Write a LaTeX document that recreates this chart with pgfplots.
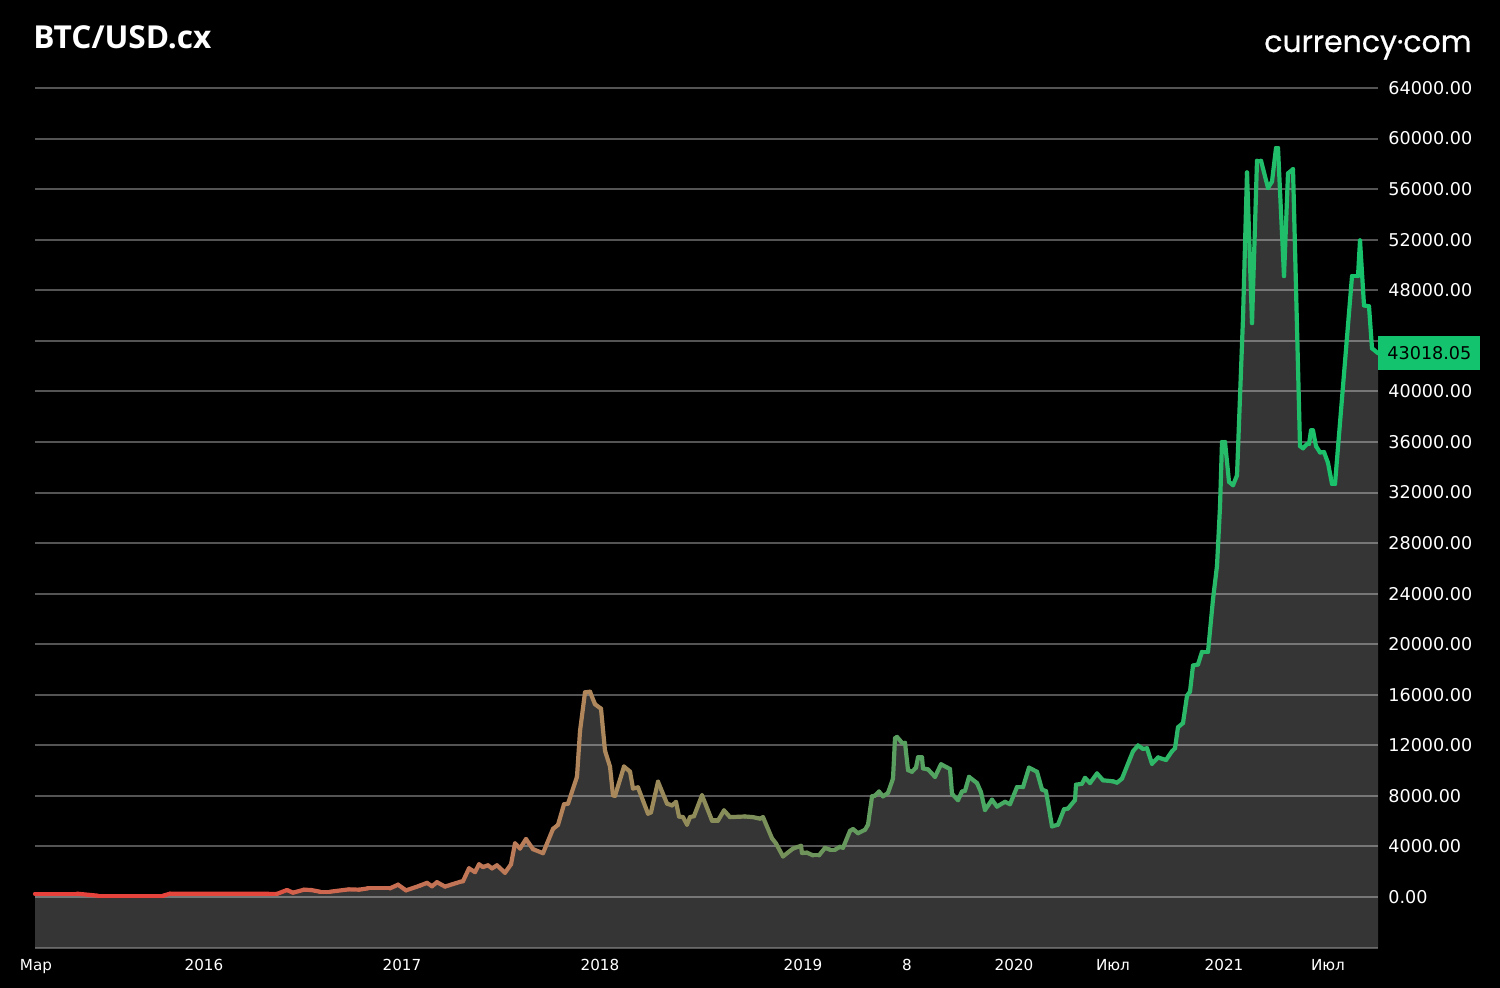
\documentclass[border=0pt]{standalone}
\usepackage{fontspec}
\setmainfont{DejaVu Sans}
\newfontfamily\titlefont{Open Sans}
\newfontfamily\logofont{Poppins}[FakeBold=0.6]
\usepackage{xcolor}
\usepackage{pgfplots}
\pgfplotsset{compat=1.18}
\usepackage{pgfplotstable}
\definecolor{areac}{RGB}{53,53,53}
\definecolor{lastg}{RGB}{20,195,110}
\pgfplotsset{colormap={btc}{rgb255(0pt)=(232,64,60) rgb255(235pt)=(228,72,60) rgb255(265pt)=(208,100,78) rgb255(465pt)=(190,122,88) rgb255(565pt)=(174,136,92) rgb255(665pt)=(142,140,90) rgb255(765pt)=(112,146,90) rgb255(865pt)=(90,160,96) rgb255(1065pt)=(52,180,102) rgb255(1343pt)=(22,195,108)}}
\pgfplotstableread{
x y
35 264
77 264
98 105
163 105
170 264
277 250
287 555
293 343
304 580
311 555
320 420
330 420
349 607
359 580
368 686
390 686
398 977
406 528
416 792
420 907
427 1120
432 853
437 1173
445 827
460 1200
463 1250
469 2267
475 1973
479 2587
483 2373
488 2507
492 2267
497 2507
505 1920
511 2587
515 4240
520 3840
526 4587
533 3787
543 3467
553 5387
558 5707
564 7333
568 7387
577 9520
580 13120
585 16190
590 16240
595 15250
601 14900
605 11570
610 10320
613 8050
615 8000
624 10320
630 9920
633 8590
638 8670
648 6590
651 6700
658 9120
667 7390
672 7250
676 7520
679 6370
683 6320
687 5730
690 6320
694 6400
702 8050
712 6050
718 6050
724 6850
730 6320
745 6370
753 6320
760 6200
763 6320
772 4644
776 4240
783 3213
793 3834
801 4050
802 3483
807 3510
813 3294
819 3294
825 3888
830 3750
835 3750
840 3969
843 3888
850 5238
853 5373
858 5049
865 5319
868 5724
872 7965
875 8019
879 8343
883 7965
888 8235
893 9369
895 12555
897 12663
902 12204
905 12204
908 10044
912 9909
916 10233
918 11043
922 11043
923 10179
928 10098
935 9504
941 10503
950 10125
952 8154
958 7668
962 8343
965 8400
969 9504
977 9018
981 8289
985 6885
992 7695
997 7155
1005 7533
1010 7344
1017 8694
1023 8694
1029 10233
1037 9909
1042 8505
1046 8370
1052 5589
1058 5724
1064 6939
1068 7000
1075 7668
1076 8883
1082 8964
1085 9423
1090 9018
1097 9774
1103 9234
1113 9153
1117 9045
1122 9369
1133 11529
1138 11988
1143 11718
1147 11770
1152 10540
1158 11040
1166 10840
1172 11535
1175 11770
1178 13430
1183 13760
1187 15920
1190 16250
1193 18310
1198 18400
1202 19400
1208 19400
1213 23550
1217 26200
1220 30860
1222 36000
1225 36000
1229 32840
1233 32580
1237 33350
1243 45800
1247 57320
1252 45400
1257 58250
1261 58250
1268 56090
1272 56600
1276 59250
1278 59250
1284 49120
1288 57250
1293 57580
1300 35670
1303 35500
1307 35840
1309 35840
1311 36900
1313 36900
1316 35670
1320 35170
1324 35200
1328 34340
1332 32680
1335 32680
1352 49120
1358 49120
1360 51940
1364 46800
1369 46730
1372 43410
1378 43018
}\btc
\pagecolor{black}
\begin{document}
\begin{tikzpicture}
\path (0pt,0pt) rectangle (750pt,494pt);
\begin{axis}[
  set layers,
  at={(17.5pt,20.2pt)}, anchor=south west,
  scale only axis, width=671.5pt, height=429.8pt,
  xmin=35, xmax=1378, ymin=-4000, ymax=64000,
  clip=false,
  scaled y ticks=false, scaled x ticks=false,
  axis line style={draw=none},
  major tick length=0pt,
  ytick={0,4000,8000,12000,16000,20000,24000,28000,32000,36000,40000,48000,52000,56000,60000,64000},
  yticklabels={0.00,4000.00,8000.00,12000.00,16000.00,20000.00,24000.00,28000.00,32000.00,36000.00,40000.00,48000.00,52000.00,56000.00,60000.00,64000.00},
  yticklabel pos=right,
  extra y ticks={-4000,44000},
  extra y tick labels={},
  extra y tick style={grid=major},
  ymajorgrids,
  grid style={white, opacity=0.33, line width=1pt},
  yticklabel style={font=\fontsize{8.8}{10}\selectfont, text=white, anchor=west, inner sep=0pt, xshift=5pt},
  xtick={36,204,402,600,803,907,1014,1113,1224,1328},
  xticklabels={Мар,2016,2017,2018,2019,8,2020,Июл,2021,Июл},
  xticklabel style={font=\fontsize{7.6}{9}\selectfont, text=white, anchor=north, inner sep=0pt, yshift=-5.7pt},
]
\addplot[on layer=axis background, fill=areac, draw=none] table[x=x,y=y]{\btc} \closedcycle;
\addplot[on layer=axis background, fill=areac, draw=none] coordinates {(35,-4000) (1378,-4000) (1378,0) (35,0) (35,-4000)};
\addplot[mesh, point meta=x, point meta min=35, point meta max=1378, colormap name=btc, line width=2.1pt, line cap=round, line join=round] table[x=x,y=y]{\btc};
\node[fill=lastg, text=black, anchor=west, minimum width=51pt, minimum height=17pt, inner sep=0pt, font=\fontsize{8.8}{10}\selectfont] at (axis cs:1378,43018) {43018.05};
\end{axis}
\node[anchor=base west, text=white, font=\titlefont\bfseries\fontsize{15.8}{18}\selectfont, inner sep=0pt] at (16.5pt,469.5pt) {BTC/USD.cx};
\node[anchor=base east, text=white, font=\logofont\fontsize{15}{18}\selectfont, inner sep=0pt] at (736pt,468pt) {currency·com};
\end{tikzpicture}
\end{document}
